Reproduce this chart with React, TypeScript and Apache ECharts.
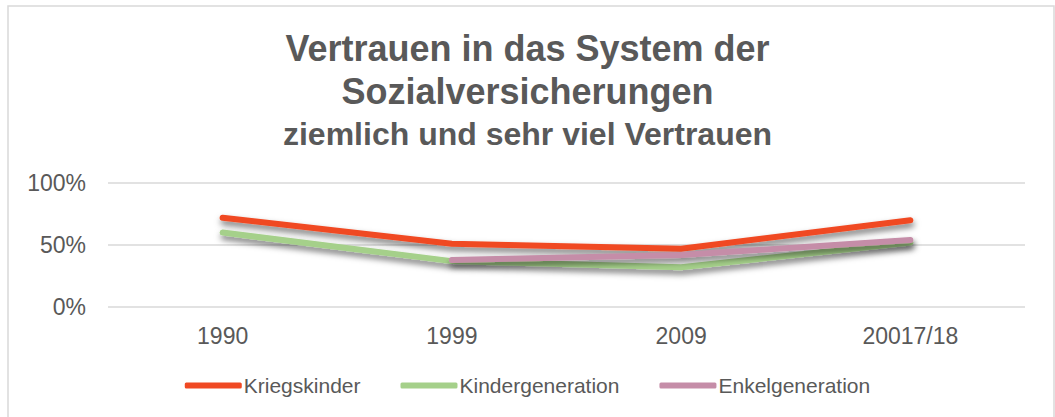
import React, { useEffect, useRef } from "react";
import * as echarts from "echarts";

const categories = ["1990", "1999", "2009", "20017/18"];
const kriegskinder = [72, 51, 47, 70];
const kindergeneration = [60, 37, 32, 52];
const enkelgeneration = [null, 38, 42, 54];
const yTicks = [0, 50, 100];

const FONT = "'Liberation Sans', Arial, sans-serif";
const GRAY = "#595959";

export default function App() {
  const ref = useRef<HTMLDivElement>(null);
  useEffect(() => {
    document.body.style.margin = "0";
    const chart = echarts.init(ref.current!, null, { renderer: "svg" });
    const shadow = {
      shadowColor: "rgba(0,0,0,0.55)",
      shadowBlur: 6,
      shadowOffsetY: 4,
      shadowOffsetX: 1,
    };
    const mk = (name: string, data: any[], color: string) => ({
      name,
      type: "line",
      data,
      symbol: "none",
      connectNulls: false,
      lineStyle: { color, width: 6, cap: "round", join: "round", ...shadow },
      itemStyle: { color },
    });
    chart.setOption({
      animation: false,
      backgroundColor: "#ffffff",
      textStyle: { fontFamily: FONT },
      title: [
        {
          text: "Vertrauen in das System der\nSozialversicherungen",
          left: "center",
          top: 22,
          textStyle: {
            fontFamily: FONT,
            fontSize: 36,
            fontWeight: "bold",
            color: GRAY,
            lineHeight: 43,
          },
        },
        {
          text: "ziemlich und sehr viel Vertrauen",
          left: "center",
          top: 111,
          textStyle: {
            fontFamily: FONT,
            fontSize: 32,
            fontWeight: "bold",
            color: GRAY,
            lineHeight: 36,
          },
        },
      ],
      graphic: [
        {
          type: "rect",
          shape: { x: 8, y: 6, width: 1046, height: 420 },
          style: { fill: "none", stroke: "#d9d9d9", lineWidth: 1.5 },
          silent: true,
        },
      ],
      legend: {
        top: 370,
        left: "center",
        itemWidth: 57,
        itemHeight: 6,
        itemGap: 40,
        icon: "roundRect",
        textStyle: { fontFamily: FONT, fontSize: 21, color: GRAY, padding: [0, 0, 0, -3] },
        data: ["Kriegskinder", "Kindergeneration", "Enkelgeneration"],
      },
      grid: { left: 108, right: 30, top: 183, bottom: 110 },
      xAxis: {
        type: "category",
        data: categories,
        boundaryGap: true,
        axisLine: { show: false },
        axisTick: { show: false },
        axisLabel: { fontFamily: FONT, fontSize: 23, color: GRAY, margin: 17 },
      },
      yAxis: {
        type: "value",
        min: yTicks[0],
        max: yTicks[yTicks.length - 1],
        interval: 50,
        axisLine: { show: false },
        axisTick: { show: false },
        axisLabel: {
          fontFamily: FONT,
          fontSize: 23,
          color: GRAY,
          margin: 22,
          formatter: (v: number) => `${v}%`,
        },
        splitLine: { lineStyle: { color: "#d9d9d9", width: 1.5 } },
      },
      series: [
        mk("Kriegskinder", kriegskinder, "#F04923"),
        mk("Kindergeneration", kindergeneration, "#A5D08A"),
        mk("Enkelgeneration", enkelgeneration, "#C58DA8"),
      ],
    });
    return () => chart.dispose();
  }, []);
  return <div ref={ref} style={{ width: 1055, height: 417 }} />;
}
